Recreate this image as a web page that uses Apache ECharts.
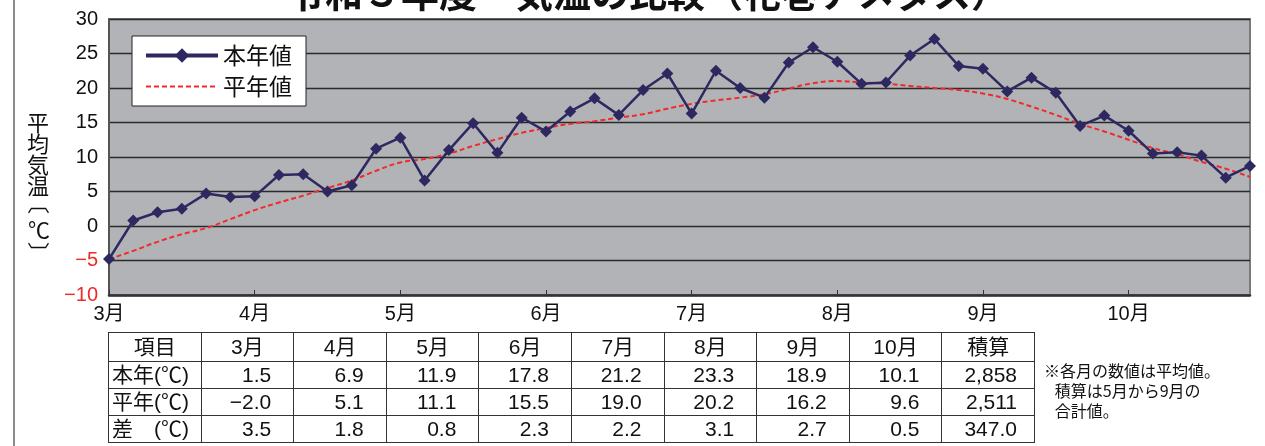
<!DOCTYPE html>
<html>
<head>
<meta charset="utf-8">
<script src="https://cdn.jsdelivr.net/npm/echarts@6/dist/echarts.min.js"></script>
<style>
  body { margin: 0; background: #fff; }
  #wrap { position: relative; width: 1265px; height: 446px; overflow: hidden; }
  #main { position: absolute; left: 0; top: 0; width: 1265px; height: 446px; }
  #tbl { position: absolute; left: 108px; top: 332px; border-collapse: collapse; table-layout: fixed; width: 927px;
    font-family: "Liberation Sans", Arial, "Noto Sans CJK JP", sans-serif; font-size: 21px; color: #111; }
  #tbl td { border: 1.5px solid #333; height: 26px; padding: 0; line-height: 24px; white-space: nowrap; }
  #tbl td.h { text-align: center; }
  #tbl td.n { text-align: right; padding-right: 22px; }
  #tbl td.l { text-align: left; padding-left: 3px; }
  #tbl tr:first-child td { height: 28px; }
  #note { position: absolute; left: 1044px; top: 360px; font-family: "Noto Sans CJK JP", sans-serif;
    font-size: 16px; line-height: 20px; color: #111; }
</style>
</head>
<body>
<div id="wrap">
  <div id="main"></div>
  <table id="tbl"></table>
  <div id="note">※各月の数値は平均値。<br>&nbsp;&nbsp;&nbsp;積算は5月から9月の<br>&nbsp;&nbsp;&nbsp;合計値。</div>
</div>
<script type="text/javascript">
	// 半旬ごと（3月〜10月、各月6点）
	var months = ['3月', '4月', '5月', '6月', '7月', '8月', '9月', '10月'];
	var thisYear = [-4.8, 0.8, 2.0, 2.5, 4.7, 4.2, 4.3, 7.4, 7.5, 5.0, 5.9, 11.2,
		12.8, 6.6, 11.0, 14.9, 10.6, 15.7, 13.7, 16.6, 18.5, 16.1, 19.7, 22.1,
		16.3, 22.5, 20.0, 18.6, 23.7, 25.9, 23.8, 20.6, 20.8, 24.7, 27.1, 23.2,
		22.8, 19.5, 21.5, 19.3, 14.5, 16.0, 13.8, 10.5, 10.7, 10.2, 7.0, 8.7];
	var normal = [-4.8, -3.6, -2.3, -1.2, -0.3, 1.0, 2.3, 3.4, 4.4, 5.5, 6.6, 8.0,
		9.2, 9.7, 10.5, 11.6, 12.6, 13.5, 14.2, 14.8, 15.2, 15.7, 16.2, 17.0,
		17.7, 18.2, 18.6, 19.1, 19.9, 20.7, 21.0, 20.8, 20.6, 20.3, 20.0, 19.7,
		19.2, 18.4, 17.3, 16.1, 14.8, 13.7, 12.5, 11.3, 10.4, 9.3, 8.3, 7.1];
	var yTicks = [-10, -5, 0, 5, 10, 15, 20, 25, 30];

	// 表
	var tableHead = ['項目', '3月', '4月', '5月', '6月', '7月', '8月', '9月', '10月', '積算'];
	var rowThis = ['1.5', '6.9', '11.9', '17.8', '21.2', '23.3', '18.9', '10.1', '2,858'];
	var rowNormal = ['−2.0', '5.1', '11.1', '15.5', '19.0', '20.2', '16.2', '9.6', '2,511'];
	var rowDiff = ['3.5', '1.8', '0.8', '2.3', '2.2', '3.1', '2.7', '0.5', '347.0'];
	var rowNames = ['本年(℃)', '平年(℃)', '差　(℃)'];

	var categories = [];
	for (var m = 0; m < months.length; m++) {
		for (var k = 1; k <= 6; k++) {
			categories.push(months[m] + k);
		}
	}

	function buildTable() {
		var html = '<tr>';
		for (var i = 0; i < tableHead.length; i++) {
			html += '<td class="h">' + tableHead[i] + '</td>';
		}
		html += '</tr>';
		var rows = [rowThis, rowNormal, rowDiff];
		for (var r = 0; r < rows.length; r++) {
			html += '<tr><td class="l">' + rowNames[r] + '</td>';
			for (var c = 0; c < rows[r].length; c++) {
				html += '<td class="n"' + (c == rows[r].length - 1 ? ' style="padding-right:17px"' : '') + '>' + rows[r][c] + '</td>';
			}
			html += '</tr>';
		}
		document.getElementById('tbl').innerHTML = html;
	}
	buildTable();

	var cjk = '"Noto Sans CJK JP", sans-serif';
	var myChart = echarts.init(document.getElementById('main'));
	var option = {
		animation : false,
		textStyle : {
			fontFamily : '"Liberation Sans", Arial, "Noto Sans CJK JP", sans-serif'
		},
		title : {
			text : '令和３年度　気温の比較（花巻アメダス）',
			left : 282,
			top : -31,
			textStyle : {
				fontSize : 38,
				fontWeight : 'bold',
				color : '#111',
				fontFamily : cjk
			}
		},
		grid : {
			left : 109,
			right : 15,
			top : 19,
			bottom : 151,
			show : true,
			backgroundColor : '#b2b3b7',
			borderColor : '#7a7a7a',
			borderWidth : 2
		},
		legend : {
			orient : 'vertical',
			left : 132,
			top : 36,
			backgroundColor : '#fff',
			borderColor : '#222',
			borderWidth : 1,
			padding : [ 8, 14, 8, 12 ],
			itemWidth : 72,
			itemHeight : 18,
			itemGap : 8,
			textStyle : {
				fontSize : 23,
				color : '#111',
				fontFamily : cjk
			},
			data : [ {
				name : '本年値',
				lineStyle : { width : 4 }
			}, {
				name : '平年値',
				itemStyle : { opacity : 0 }
			} ]
		},
		xAxis : {
			type : 'category',
			boundaryGap : false,
			data : categories,
			axisLine : {
				onZero : false,
				lineStyle : { color : '#333', width : 2.5 }
			},
			axisTick : {
				inside : true,
				length : 5,
				interval : function(idx) { return idx % 6 === 0; },
				lineStyle : { color : '#333' }
			},
			axisLabel : {
				interval : function(idx) { return idx % 6 === 0; },
				formatter : function(v, idx) { return months[Math.floor(idx / 6)]; },
				fontSize : 20,
				color : '#111',
				margin : 9
			},
			splitLine : { show : false }
		},
		yAxis : {
			type : 'value',
			min : yTicks[0],
			max : yTicks[yTicks.length - 1],
			interval : 5,
			axisLine : {
				show : true,
				lineStyle : { color : '#555', width : 2 }
			},
			axisTick : { show : false },
			axisLabel : {
				fontSize : 20,
				margin : 11,
				color : '#111',
				formatter : function(v) {
					if (v < 0) {
						return '{neg|−' + Math.abs(v) + '}';
					}
					return String(v);
				},
				rich : {
					neg : { color : '#ee2a2a', fontSize : 20 }
				}
			},
			splitLine : {
				lineStyle : { color : '#2a2a2a', width : 1.3 }
			}
		},
		graphic : [ {
			type : 'line',
			shape : { x1 : 14, y1 : 0, x2 : 14, y2 : 446 },
			style : { stroke : '#8a8a8a', lineWidth : 2 }
		}, {
			type : 'text',
			left : 27,
			top : 112,
			style : {
				text : '平\n均\n気\n温',
				fontSize : 22,
				lineHeight : 21,
				fill : '#111',
				fontFamily : cjk
			}
		}, {
			// 縦書きの括弧
			type : 'text',
			x : 39,
			y : 203,
			rotation : -Math.PI / 2,
			style : {
				text : '〔',
				fontSize : 22,
				align : 'center',
				verticalAlign : 'middle',
				fill : '#111',
				fontFamily : cjk
			}
		}, {
			type : 'text',
			x : 39,
			y : 230,
			style : {
				text : '℃',
				fontSize : 22,
				align : 'center',
				verticalAlign : 'middle',
				fill : '#111',
				fontFamily : cjk
			}
		}, {
			type : 'text',
			x : 39,
			y : 253,
			rotation : -Math.PI / 2,
			style : {
				text : '〕',
				fontSize : 22,
				align : 'center',
				verticalAlign : 'middle',
				fill : '#111',
				fontFamily : cjk
			}
		} ],
		series : [ {
			name : '本年値',
			type : 'line',
			data : thisYear,
			symbol : 'diamond',
			symbolSize : 12,
			z : 3,
			itemStyle : { color : '#2d2960' },
			lineStyle : { color : '#2d2960', width : 2.5 }
		}, {
			name : '平年値',
			type : 'line',
			data : normal,
			smooth : true,
			symbol : 'none',
			z : 2,
			itemStyle : { color : '#f22a2a' },
			lineStyle : { color : '#f22a2a', width : 2, type : [ 5, 3 ] }
		} ]
	};
	myChart.setOption(option);
</script>
</body>
</html>
